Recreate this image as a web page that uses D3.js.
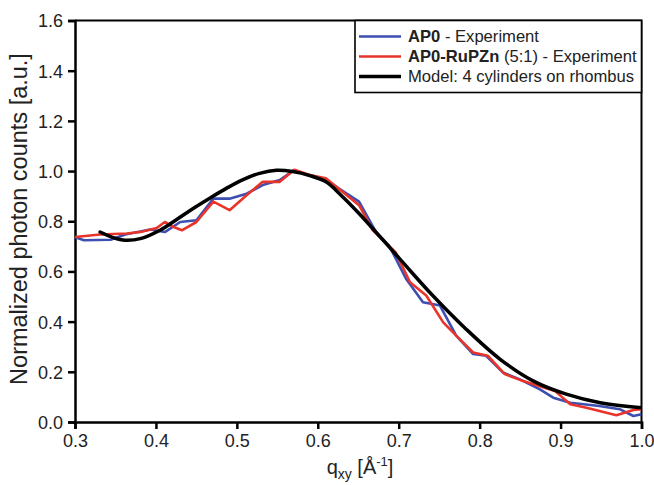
<!DOCTYPE html>
<html>
<head>
<meta charset="utf-8">
<script src="https://cdn.jsdelivr.net/npm/d3@7"></script>
<style>
  html, body { margin: 0; padding: 0; background: #fff; }
  svg { display: block; font-family: "Liberation Sans", Arial, Helvetica, sans-serif; }
</style>
</head>
<body>
<svg id="chart" width="654" height="485"></svg>
<script>
// ---- Data ----
const qAP0 = [0.300, 0.311, 0.344, 0.362, 0.393, 0.411, 0.430, 0.450, 0.471, 0.491, 0.512, 0.532, 0.553, 0.569, 0.590, 0.610, 0.651, 0.672, 0.688, 0.709, 0.730, 0.751, 0.771, 0.792, 0.808, 0.829, 0.849, 0.874, 0.891, 0.912, 0.948, 0.973, 0.990, 1.000];
const yAP0 = [0.737, 0.724, 0.726, 0.747, 0.767, 0.757, 0.797, 0.804, 0.890, 0.890, 0.910, 0.944, 0.964, 1.000, 0.984, 0.964, 0.878, 0.757, 0.704, 0.571, 0.477, 0.464, 0.344, 0.271, 0.264, 0.197, 0.171, 0.131, 0.097, 0.077, 0.064, 0.051, 0.024, 0.031];

const qRuPZn = [0.300, 0.331, 0.364, 0.381, 0.401, 0.411, 0.422, 0.432, 0.450, 0.471, 0.491, 0.512, 0.532, 0.553, 0.571, 0.590, 0.610, 0.651, 0.668, 0.696, 0.714, 0.734, 0.755, 0.775, 0.792, 0.810, 0.831, 0.853, 0.893, 0.912, 0.932, 0.969, 0.990, 1.000];
const yRuPZn = [0.737, 0.747, 0.751, 0.757, 0.773, 0.797, 0.777, 0.764, 0.797, 0.878, 0.844, 0.904, 0.957, 0.957, 1.005, 0.984, 0.971, 0.864, 0.764, 0.677, 0.557, 0.504, 0.397, 0.331, 0.277, 0.264, 0.191, 0.164, 0.124, 0.071, 0.057, 0.027, 0.048, 0.051];

const qModel = [0.331, 0.347, 0.362, 0.382, 0.405, 0.427, 0.446, 0.467, 0.487, 0.507, 0.528, 0.549, 0.569, 0.590, 0.610, 0.630, 0.651, 0.701, 0.742, 0.783, 0.825, 0.866, 0.907, 0.949, 1.000];
const yModel = [0.757, 0.735, 0.724, 0.732, 0.764, 0.810, 0.851, 0.893, 0.931, 0.965, 0.991, 1.003, 0.998, 0.982, 0.957, 0.900, 0.831, 0.651, 0.504, 0.371, 0.251, 0.164, 0.111, 0.077, 0.057];

const xTicks = [0.3, 0.4, 0.5, 0.6, 0.7, 0.8, 0.9, 1.0];
const yTicks = [0.0, 0.2, 0.4, 0.6, 0.8, 1.0, 1.2, 1.4, 1.6];

const seriesNames = ["AP0", "AP0-RuPZn", "Model: 4 cylinders on rhombus"];
const seriesColors = ["#3d4fb0", "#e8342a", "#000000"];

// ---- Layout ----
const svg = d3.select("#chart");
const pLeft = 75, pRight = 641.5, pTop = 20.5, pBottom = 422;

const x = d3.scaleLinear().domain([0.3, 1.0]).range([pLeft, pRight]);
const y = d3.scaleLinear().domain([0, 1.6]).range([pBottom, pTop]);

const font = "'Liberation Sans', Arial, Helvetica, sans-serif";

// Frame (top and right)
svg.append("path")
  .attr("d", `M${pLeft},${pTop}H${pRight}V${pBottom}`)
  .attr("fill", "none").attr("stroke", "#000").attr("stroke-width", 2);

// Axes
const xAxis = d3.axisBottom(x).tickValues(xTicks).tickFormat(d3.format(".1f")).tickSize(7).tickPadding(5);
const yAxis = d3.axisLeft(y).tickValues(yTicks).tickFormat(d3.format(".1f")).tickSize(7).tickPadding(5);

const gx = svg.append("g").attr("transform", `translate(0,${pBottom})`).call(xAxis);
const gy = svg.append("g").attr("transform", `translate(${pLeft},0)`).call(yAxis);
[gx, gy].forEach(g => {
  g.select(".domain").attr("stroke", "#000").attr("stroke-width", 2.5);
  g.selectAll(".tick line").attr("stroke", "#000").attr("stroke-width", 2.5);
  g.selectAll(".tick text").attr("fill", "#222").style("font-family", font).style("font-size", "18px");
});
gy.selectAll(".tick text").attr("dy", "0.36em");

// Lines
const makeLine = (qs, ys, curve) => d3.line()
  .x((d, i) => x(qs[i])).y((d, i) => y(ys[i])).curve(curve)(qs);

svg.append("clipPath").attr("id", "clip").append("rect")
  .attr("x", pLeft).attr("y", pTop).attr("width", pRight - pLeft).attr("height", pBottom - pTop);

const plot = svg.append("g").attr("clip-path", "url(#clip)");
plot.append("path").attr("d", makeLine(qAP0, yAP0, d3.curveLinear))
  .attr("fill", "none").attr("stroke", seriesColors[0]).attr("stroke-width", 2.6).attr("stroke-linejoin", "round");
plot.append("path").attr("d", makeLine(qRuPZn, yRuPZn, d3.curveLinear))
  .attr("fill", "none").attr("stroke", seriesColors[1]).attr("stroke-width", 2.6).attr("stroke-linejoin", "round");
plot.append("path").attr("d", makeLine(qModel, yModel, d3.curveCatmullRom))
  .attr("fill", "none").attr("stroke", seriesColors[2]).attr("stroke-width", 3.5).attr("stroke-linecap", "round");

// Legend
const lg = svg.append("g");
lg.append("rect").attr("x", 355).attr("y", pTop).attr("width", pRight - 355).attr("height", 72)
  .attr("fill", "#fff").attr("stroke", "#000").attr("stroke-width", 1.6);
const rowsY = [36.5, 56.5, 76.5];
const legendText = [
  [{t: seriesNames[0], b: true}, {t: " - Experiment", b: false}],
  [{t: seriesNames[1], b: true}, {t: " (5:1) - Experiment", b: false}],
  [{t: seriesNames[2], b: false}]
];
rowsY.forEach((ry, i) => {
  lg.append("line").attr("x1", 359).attr("x2", 401).attr("y1", ry).attr("y2", ry)
    .attr("stroke", seriesColors[i]).attr("stroke-width", i === 2 ? 3.5 : 2.6);
  const t = lg.append("text").attr("x", 408).attr("y", ry).attr("dy", "0.36em")
    .style("font-family", font).style("font-size", "16.6px").attr("fill", "#222");
  legendText[i].forEach(p => t.append("tspan").text(p.t).attr("font-weight", p.b ? "bold" : "normal"));
});

// Axis titles
svg.append("text")
  .attr("transform", `translate(27,219) rotate(-90)`)
  .attr("text-anchor", "middle")
  .style("font-family", font).style("font-size", "23.5px").attr("fill", "#222")
  .text("Normalized photon counts [a.u.]");

const xt = svg.append("text").attr("x", 360).attr("y", 474).attr("text-anchor", "middle")
  .style("font-family", font).style("font-size", "20px").attr("fill", "#222");
xt.append("tspan").text("q");
xt.append("tspan").text("xy").attr("dy", 5).style("font-size", "14px");
xt.append("tspan").text(" [Å").attr("dy", -5);
xt.append("tspan").text("-1").attr("dy", -8).style("font-size", "13px");
xt.append("tspan").text("]").attr("dy", 8);
</script>
</body>
</html>
